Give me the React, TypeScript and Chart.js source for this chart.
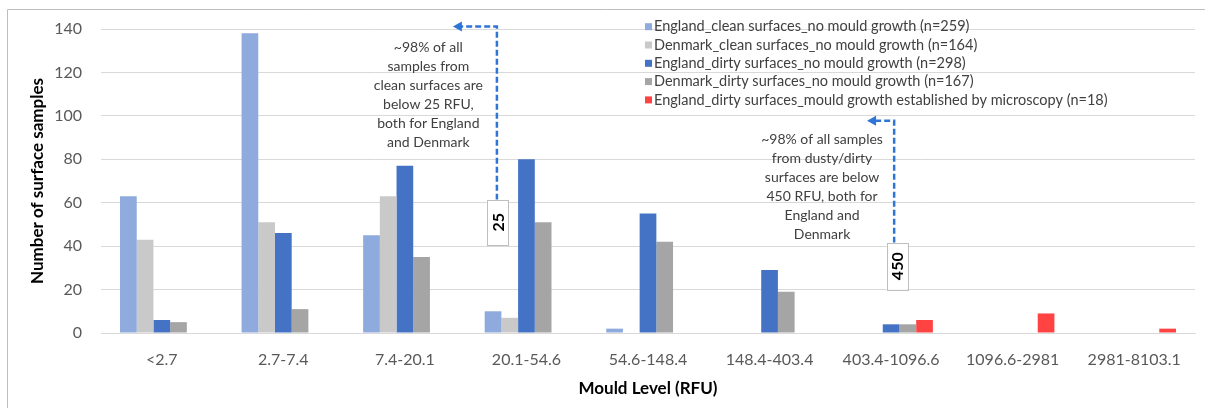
import React, { useEffect, useRef } from "react";
import { Chart, registerables } from "chart.js";

Chart.register(...registerables);

// ---------- data ----------
const categories = [
  "<2.7",
  "2.7-7.4",
  "7.4-20.1",
  "20.1-54.6",
  "54.6-148.4",
  "148.4-403.4",
  "403.4-1096.6",
  "1096.6-2981",
  "2981-8103.1",
];
const englandClean = [63, 138, 45, 10, 2, 0, 0, 0, 0];
const denmarkClean = [43, 51, 63, 7, 0, 0, 0, 0, 0];
const englandDirty = [6, 46, 77, 80, 55, 29, 4, 0, 0];
const denmarkDirty = [5, 11, 35, 51, 42, 19, 4, 0, 0];
const englandMould = [0, 0, 0, 0, 0, 0, 6, 9, 2];
const seriesLabels = [
  "England_clean surfaces_no mould growth (n=259)",
  "Denmark_clean surfaces_no mould growth (n=164)",
  "England_dirty surfaces_no mould growth (n=298)",
  "Denmark_dirty surfaces_no mould growth (n=167)",
  "England_dirty surfaces_mould growth established by microscopy (n=18)",
];
const seriesColors = ["#8faadc", "#c9c9c9", "#4472c4", "#a5a5a5", "#ff4343"];
const yMin = 0;
const yMax = 140;
const yStep = 20;
const xTitle = "Mould Level (RFU)";
const yTitle = "Number of surface samples";

// ---------- annotations (in data units: category index / count) ----------
const cleanNote = {
  label: "25",
  lineX: 2.757,
  boxX: 2.761,
  arrowTipX: 2.395,
  topY: 141.2,
  boxTopY: 61.4,
  boxBottomY: 40.7,
  textX: 2.193,
  textTopY: 131.3,
  lines: [
    "~98% of all",
    "samples from",
    "clean surfaces are",
    "below 25 RFU,",
    "both for England",
    "and Denmark",
  ],
};
const dirtyNote = {
  label: "450",
  lineX: 6.025,
  boxX: 6.049,
  arrowTipX: 5.802,
  topY: 97.8,
  boxTopY: 41.6,
  boxBottomY: 19.9,
  textX: 5.432,
  textTopY: 89.3,
  lines: [
    "~98% of all samples",
    "from dusty/dirty",
    "surfaces are below",
    "450 RFU, both for",
    "England and",
    "Denmark",
  ],
};

const FONT = "Lato, 'Open Sans', sans-serif";

function drawNote(ctx: CanvasRenderingContext2D, chart: any, note: any) {
  const xs = chart.scales.x;
  const ys = chart.scales.y;
  const lx = xs.getPixelForValue(note.lineX);
  const tip = xs.getPixelForValue(note.arrowTipX);
  const top = ys.getPixelForValue(note.topY);
  const boxTop = ys.getPixelForValue(note.boxTopY);
  const boxBottom = ys.getPixelForValue(note.boxBottomY);
  const bx = xs.getPixelForValue(note.boxX);

  // text
  ctx.save();
  ctx.fillStyle = "#404040";
  ctx.font = `14px ${FONT}`;
  ctx.textAlign = "center";
  ctx.textBaseline = "middle";
  const tx = xs.getPixelForValue(note.textX);
  const ty = ys.getPixelForValue(note.textTopY);
  note.lines.forEach((l: string, i: number) => ctx.fillText(l, tx, ty + i * 19));
  ctx.restore();

  // dashed connector
  ctx.save();
  ctx.strokeStyle = "#2e75d6";
  ctx.fillStyle = "#2e75d6";
  ctx.lineWidth = 2.5;
  ctx.setLineDash([6, 3]);
  ctx.beginPath();
  ctx.moveTo(lx, boxTop);
  ctx.lineTo(lx, top);
  ctx.lineTo(tip + 8, top);
  ctx.stroke();
  ctx.setLineDash([]);
  ctx.beginPath();
  ctx.moveTo(tip, top);
  ctx.lineTo(tip + 9, top - 5);
  ctx.lineTo(tip + 9, top + 5);
  ctx.closePath();
  ctx.fill();
  ctx.restore();

  // label box
  ctx.save();
  const w = 21;
  ctx.fillStyle = "#ffffff";
  ctx.fillRect(bx - w / 2, boxTop, w, boxBottom - boxTop);
  ctx.strokeStyle = "#bfbfbf";
  ctx.lineWidth = 1;
  ctx.strokeRect(Math.round(bx - w / 2) + 0.5, Math.round(boxTop) + 0.5, w, Math.round(boxBottom - boxTop));
  ctx.translate(bx + 1, (boxTop + boxBottom) / 2);
  ctx.rotate(-Math.PI / 2);
  ctx.fillStyle = "#000000";
  ctx.font = `bold 16px ${FONT}`;
  ctx.textAlign = "center";
  ctx.textBaseline = "middle";
  ctx.fillText(note.label, 0, 0);
  ctx.restore();
}

const extrasPlugin = {
  id: "extras",
  afterDraw(chart: any) {
    const ctx: CanvasRenderingContext2D = chart.ctx;
    // outer frame
    ctx.save();
    ctx.strokeStyle = "#bfbfbf";
    ctx.lineWidth = 1;
    ctx.beginPath();
    ctx.moveTo(7.5, chart.height);
    ctx.lineTo(7.5, 9.5);
    ctx.lineTo(chart.width, 9.5);
    ctx.stroke();
    ctx.restore();

    // legend
    ctx.save();
    ctx.font = `14.5px ${FONT}`;
    ctx.textBaseline = "middle";
    ctx.textAlign = "left";
    const lx = 645;
    const ly0 = 26.7;
    const step = 18.3;
    chart.data.datasets.forEach((ds: any, i: number) => {
      const y = ly0 + i * step;
      ctx.fillStyle = ds.backgroundColor;
      ctx.fillRect(lx, y - 3.5, 7, 7);
      ctx.fillStyle = "#404040";
      ctx.fillText(ds.label, lx + 9, y);
    });
    ctx.restore();

    drawNote(ctx, chart, cleanNote);
    drawNote(ctx, chart, dirtyNote);
  },
};

export default function App() {
  const ref = useRef<HTMLCanvasElement>(null);
  useEffect(() => {
    if (!ref.current) return;
    const series = [englandClean, denmarkClean, englandDirty, denmarkDirty, englandMould];
    const chart = new Chart(ref.current, {
      type: "bar",
      data: {
        labels: categories,
        datasets: series.map((d, i) => ({
          label: seriesLabels[i],
          data: d,
          backgroundColor: seriesColors[i],
          borderWidth: 0,
          categoryPercentage: 0.687,
          barPercentage: 1,
        })),
      },
      options: {
        responsive: false,
        animation: false,
        devicePixelRatio: 1,
        layout: { padding: { top: 29, right: 10, bottom: 0, left: 0 } },
        plugins: {
          legend: { display: false },
          tooltip: { enabled: false },
          title: { display: false },
        },
        scales: {
          x: {
            grid: { display: false, drawTicks: false },
            border: { display: true, color: "#d9d9d9", width: 1 },
            ticks: {
              color: "#595959",
              font: { family: FONT, size: 16 },
              padding: 17,
              maxRotation: 0,
              autoSkip: false,
            },
            title: {
              display: true,
              text: xTitle,
              color: "#000000",
              font: { family: FONT, size: 17, weight: "bold" },
              padding: { top: 0, bottom: 9 },
            },
            afterFit: (s: any) => {
              s.height = 75;
            },
          },
          y: {
            min: yMin,
            max: yMax,
            grid: { color: "#d9d9d9", drawTicks: false },
            border: { display: false },
            ticks: {
              stepSize: yStep,
              color: "#595959",
              font: { family: FONT, size: 16 },
              padding: 19,
            },
            title: {
              display: true,
              text: yTitle,
              color: "#000000",
              font: { family: FONT, size: 17, weight: "bold" },
              padding: { top: 27, bottom: 0 },
            },
            afterFit: (s: any) => {
              s.width = 101;
            },
          },
        },
      } as any,
      plugins: [extrasPlugin],
    });
    return () => chart.destroy();
  }, []);

  return (
    <div style={{ position: "absolute", left: 0, top: 0, width: 1205, height: 408, background: "#ffffff" }}>
      <canvas ref={ref} width={1205} height={408} style={{ display: "block" }} />
    </div>
  );
}
